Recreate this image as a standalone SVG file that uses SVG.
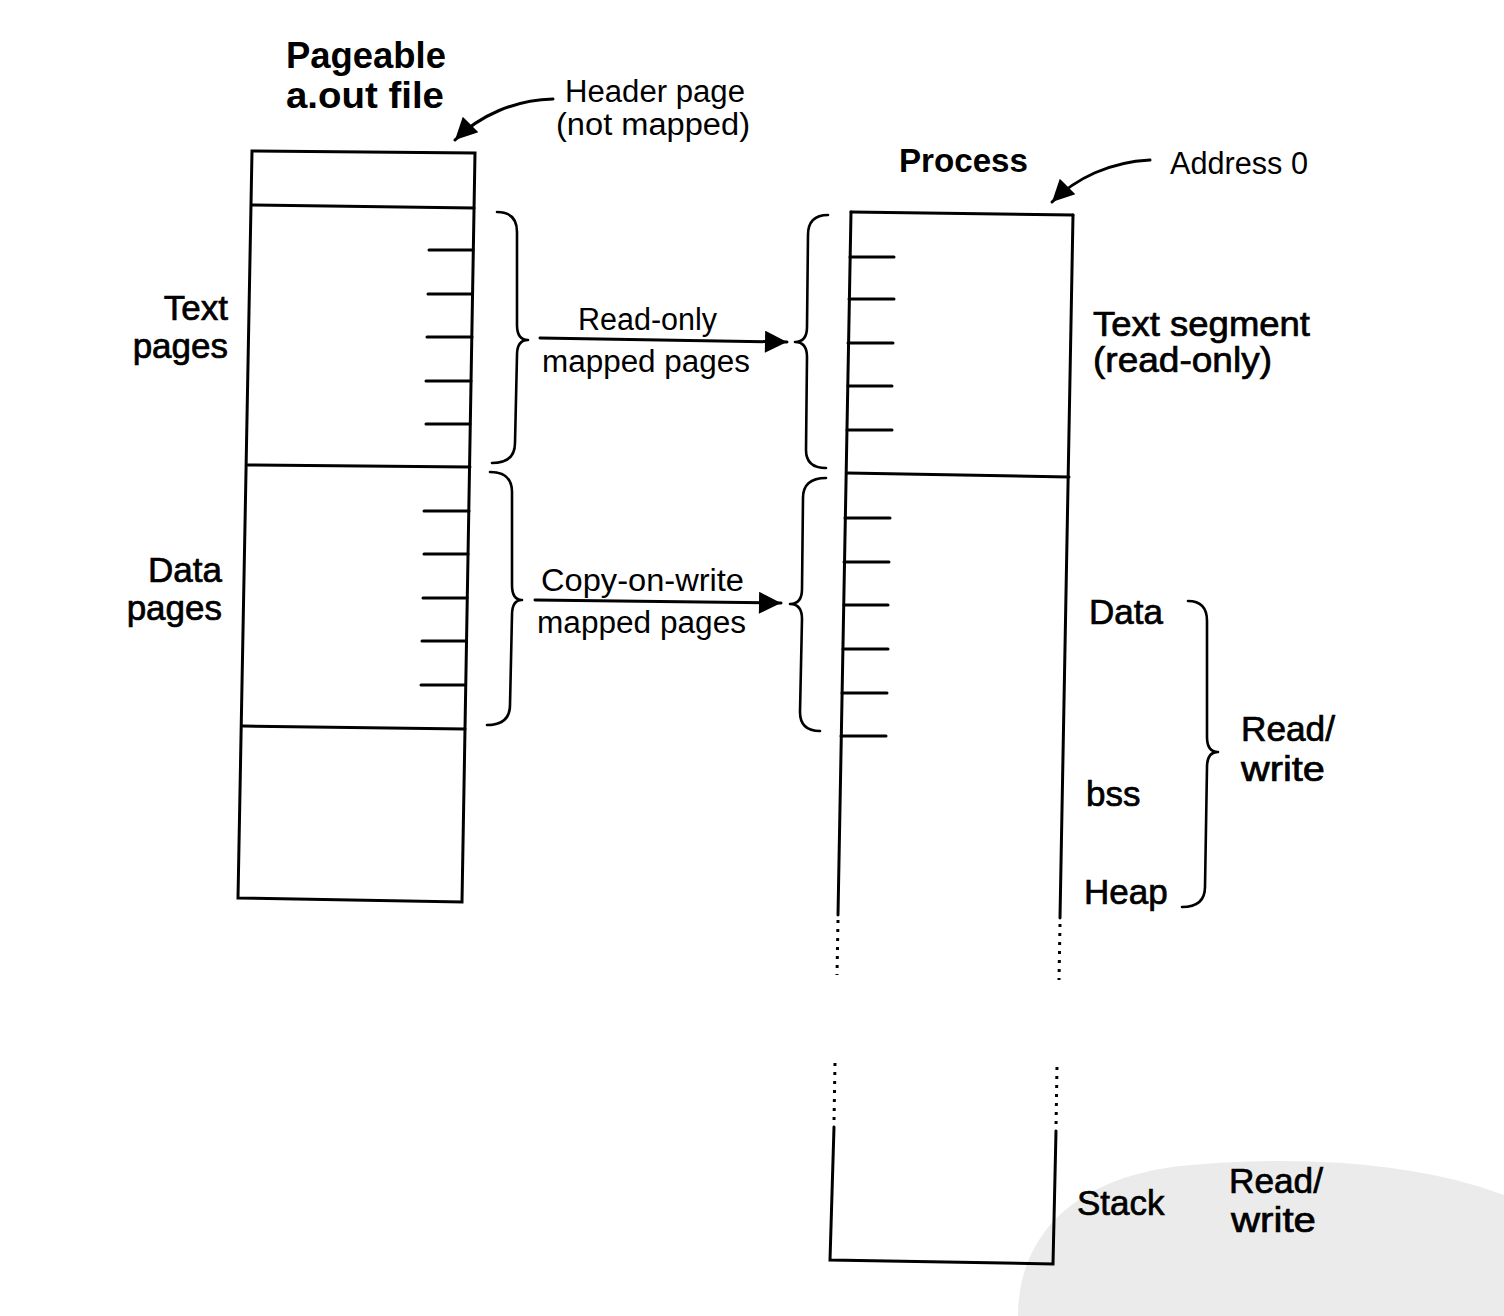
<svg xmlns="http://www.w3.org/2000/svg" width="1504" height="1316" viewBox="0 0 1504 1316">
<style>
.ln{stroke:#000;stroke-width:3;fill:none;stroke-linecap:round}
.dot{stroke:#000;stroke-width:3;fill:none;stroke-dasharray:3 6}
.br{stroke:#000;stroke-width:2.6;fill:none;stroke-linecap:round;stroke-linejoin:round}
text{font-family:"Liberation Sans","DejaVu Sans",sans-serif;fill:#000}
.t{font-size:36px;font-weight:bold}
.r{font-size:31px}
.m{font-size:35px;stroke:#000;stroke-width:0.7}
</style>
<defs>
<marker id="ah" viewBox="0 0 10 10" refX="10" refY="5" markerWidth="30" markerHeight="22" markerUnits="userSpaceOnUse" orient="auto">
<path d="M0,0 L10,5 L0,10 Z" fill="#000"/>
</marker>
</defs>
<rect width="1504" height="1316" fill="#fff"/>
<g id="watermark">
<path d="M1018,1316 C1018,1235 1075,1178 1180,1166 C1300,1154 1420,1163 1504,1195 L1504,1316 Z" fill="#ebebeb"/>
</g>
<g id="aout-file">
<polygon class="ln" points="252,151 475,153 462,902 238,898"/>
<line class="ln" x1="252" y1="205" x2="474" y2="208"/>
<line class="ln" x1="248" y1="465" x2="470" y2="467"/>
<line class="ln" x1="243" y1="726" x2="465" y2="729"/>
<path class="ln" d="M429,250H473M428,294H472M427,337H472M426,381H471M426,424H470"/>
<path class="ln" d="M424,511H469M424,554H468M423,598H467M422,641H466M421,685H465"/>
<text class="t" x="286" y="68" textLength="160" lengthAdjust="spacingAndGlyphs">Pageable</text>
<text class="t" x="286" y="108" textLength="158" lengthAdjust="spacingAndGlyphs">a.out file</text>
<text class="m" x="228" y="320" text-anchor="end">Text</text>
<text class="m" x="228" y="358" text-anchor="end">pages</text>
<text class="m" x="222" y="582" text-anchor="end">Data</text>
<text class="m" x="222" y="620" text-anchor="end">pages</text>
</g>
<g id="process">
<line class="ln" x1="851" y1="212" x2="1073" y2="215"/>
<line class="ln" x1="851" y1="212" x2="838" y2="915"/>
<line class="ln" x1="1073" y1="215" x2="1060" y2="918"/>
<line class="dot" x1="838" y1="920" x2="837" y2="975"/>
<line class="dot" x1="1060" y1="924" x2="1059" y2="980"/>
<line class="ln" x1="847" y1="473" x2="1069" y2="477"/>
<path class="ln" d="M850,257H894M849,299H894M848,343H893M848,386H892M847,430H892"/>
<path class="ln" d="M845,518H890M844,562H889M844,605H888M843,649H888M842,693H887M841,736H886"/>
<line class="dot" x1="835" y1="1063" x2="834" y2="1122"/>
<line class="dot" x1="1057" y1="1067" x2="1056" y2="1127"/>
<polyline class="ln" points="834,1127 830,1260 1053,1264 1056,1131"/>
<text class="t" x="899" y="172" textLength="129" lengthAdjust="spacingAndGlyphs" style="font-size:34px">Process</text>
<text class="m" x="1093" y="336" textLength="217" lengthAdjust="spacingAndGlyphs">Text segment</text>
<text class="m" x="1093" y="372" textLength="179" lengthAdjust="spacingAndGlyphs">(read-only)</text>
<text class="m" x="1089" y="624">Data</text>
<text class="m" x="1086" y="806">bss</text>
<text class="m" x="1084" y="904">Heap</text>
<text class="m" x="1241" y="741" textLength="94" lengthAdjust="spacingAndGlyphs">Read/</text>
<text class="m" x="1241" y="781" textLength="84" lengthAdjust="spacingAndGlyphs">write</text>
<text class="m" x="1077" y="1215">Stack</text>
<text class="m" x="1229" y="1193" textLength="94" lengthAdjust="spacingAndGlyphs">Read/</text>
<text class="m" x="1231" y="1232" textLength="85" lengthAdjust="spacingAndGlyphs">write</text>
</g>
<g id="braces">
<path class="br" d="M497,212 Q517,212 517,232 L517,325 Q517,340 528,340 Q517,340 517,355 L515,443 Q515,463 492,463"/>
<path class="br" d="M490,472 Q512,472 512,492 L512,585 Q512,600 522,600 Q512,600 512,615 L510,705 Q510,725 487,725"/>
<path class="br" d="M828,215 Q808,215 808,235 L807,327 Q807,342 795,342 Q807,342 807,357 L806,450 Q806,468 826,468"/>
<path class="br" d="M826,478 Q803,478 803,498 L802,589 Q802,604 790,604 Q802,604 802,619 L800,712 Q800,731 820,731"/>
<path class="br" d="M1188,601 Q1207,601 1207,621 L1207,737 Q1207,752 1218,752 Q1207,752 1207,767 L1205,887 Q1205,907 1182,907"/>
</g>
<g id="connectors">
<path class="ln" d="M553,99 C515,100 480,115 455,140" marker-end="url(#ah)"/>
<path class="ln" d="M1150,160 C1110,162 1076,178 1052,202" marker-end="url(#ah)"/>
<line class="ln" x1="540" y1="338" x2="787" y2="342" marker-end="url(#ah)"/>
<line class="ln" x1="535" y1="600" x2="781" y2="603" marker-end="url(#ah)"/>
</g>
<g id="labels">
<text class="r" x="565" y="102" textLength="180" lengthAdjust="spacingAndGlyphs">Header page</text>
<text class="r" x="556" y="135" textLength="194" lengthAdjust="spacingAndGlyphs">(not mapped)</text>
<text class="r" x="1170" y="174" textLength="138" lengthAdjust="spacingAndGlyphs">Address 0</text>
<text class="r" x="578" y="330" textLength="139" lengthAdjust="spacingAndGlyphs">Read-only</text>
<text class="r" x="542" y="372" textLength="208" lengthAdjust="spacingAndGlyphs">mapped pages</text>
<text class="r" x="541" y="591" textLength="203" lengthAdjust="spacingAndGlyphs">Copy-on-write</text>
<text class="r" x="537" y="633" textLength="209" lengthAdjust="spacingAndGlyphs">mapped pages</text>
</g>
</svg>
